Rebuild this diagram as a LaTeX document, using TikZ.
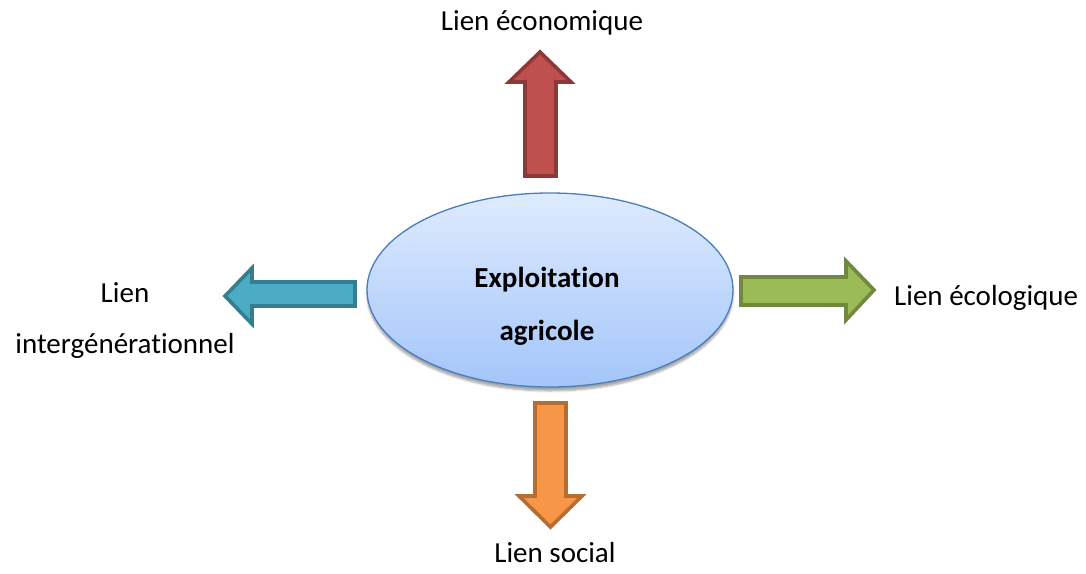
\documentclass[tikz,border=0pt]{standalone}
\usepackage{fontspec}
\setmainfont{Carlito}[Ligatures=NoCommon]
\usetikzlibrary{shadows.blur,shapes.geometric}
\definecolor{redF}{HTML}{C0504D}\definecolor{redD}{HTML}{8C3836}
\definecolor{bluF}{HTML}{4BACC6}\definecolor{bluD}{HTML}{357D91}
\definecolor{grnF}{HTML}{9BBB59}\definecolor{grnD}{HTML}{71893F}
\definecolor{orgF}{HTML}{F79646}\definecolor{orgD}{HTML}{B66D31}
\definecolor{ellTop}{HTML}{DEEBFD}\definecolor{ellBot}{HTML}{A4C5FA}
\definecolor{ellD}{HTML}{4A7EBB}
\tikzset{
  blockarrow/.style={line width=3.6pt, line join=miter, miter limit=10},
  lbl/.style={font=\fontsize{29}{35}\selectfont, inner sep=0pt, text=black},
}
\begin{document}
\begin{tikzpicture}[x=1pt,y=-1pt]
\useasboundingbox (0,0) rectangle (1086,573);
% centre ellipse
\node[draw=ellD, line width=1.3pt, top color=ellTop, bottom color=ellBot,
  shape=ellipse, minimum width=366pt, minimum height=194pt, inner sep=0pt,
  blur shadow={shadow xshift=0pt, shadow yshift=-4pt, shadow blur steps=6, shadow opacity=35}]
  (farm) at (550,290) {};
\node[lbl, font=\fontsize{29}{35}\selectfont\bfseries] (t1) at (547,280) {Exploitation};
\node[lbl, font=\fontsize{29}{35}\selectfont\bfseries] (t2) at (547,333) {agricole};
% up arrow (red)
\draw[blockarrow, draw=redD, fill=redF]
  (540,52) -- (571,82) -- (556,82) -- (556,176) -- (525,176) -- (525,82) -- (509,82) -- cycle;
% left arrow (blue)
\draw[blockarrow, draw=bluD, fill=bluF]
  (225,296) -- (252,268) -- (252,282) -- (355,282) -- (355,306) -- (252,306) -- (252,324) -- cycle;
% right arrow (green)
\draw[blockarrow, draw=grnD, fill=grnF]
  (874,290) -- (846,261) -- (846,277) -- (741,277) -- (741,305) -- (846,305) -- (846,320) -- cycle;
% down arrow (orange)
\draw[blockarrow, draw=orgD, fill=orgF]
  (550.5,527) -- (582,496) -- (566,496) -- (566,403) -- (535,403) -- (535,496) -- (519,496) -- cycle;
% labels
\node[lbl] (eco) at (542,23) {Lien économique};
\node[lbl] (gen1) at (125,293) {Lien};
\node[lbl] (gen2) at (125,346) {intergénérationnel};
\node[lbl, anchor=west] (ecol) at (894,298) {Lien écologique};
\node[lbl] (soc) at (555,553) {Lien social};
\end{tikzpicture}
\end{document}
